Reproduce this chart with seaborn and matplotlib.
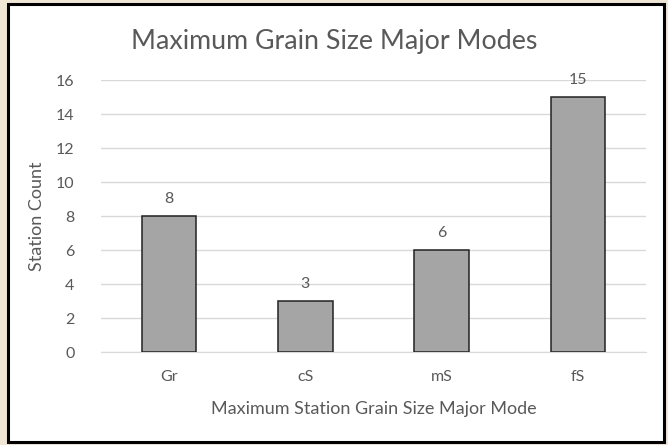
import matplotlib
matplotlib.use("Agg")
import matplotlib.pyplot as plt
import pandas as pd
import seaborn as sns
from matplotlib.patches import Rectangle

categories = ["Gr", "cS", "mS", "fS"]
counts = [8, 3, 6, 15]
yticks = [0, 2, 4, 6, 8, 10, 12, 14, 16]

sns.set_style("white")
plt.rcParams["font.family"] = ["Lato", "DejaVu Sans"]
TXT = "#595959"

df = pd.DataFrame({"mode": categories, "count": counts})

fig = plt.figure(figsize=(6.68, 4.45), dpi=100, facecolor="#efe6d6")
# white chart area with black frame
fig.patches.append(Rectangle((8 / 668, 3 / 445), 656 / 668, 438 / 445,
                             transform=fig.transFigure, facecolor="white",
                             edgecolor="black", linewidth=2.2, zorder=-5))

ax = fig.add_axes([101 / 668, 1 - 352 / 445, 545 / 668, 272 / 445])
ax.set_facecolor("none")
sns.barplot(data=df, x="mode", y="count", color="#a5a5a5", width=0.4,
            edgecolor="#222222", linewidth=1.1, saturation=1, ax=ax, zorder=3)

for i, v in enumerate(counts):
    ax.text(i, v + 0.6, str(v), ha="center", va="bottom", fontsize=11.5, color=TXT)

ax.set_ylim(0, 16)
ax.set_yticks(yticks)
ax.yaxis.grid(True, color="#d9d9d9", linewidth=1, zorder=0)
ax.set_axisbelow(True)
for s in ["top", "right", "left"]:
    ax.spines[s].set_visible(False)
ax.spines["bottom"].set_color("#d9d9d9")
ax.tick_params(axis="both", length=0, colors=TXT, labelsize=11.5)
ax.tick_params(axis="y", pad=19)
ax.tick_params(axis="x", pad=13)
ax.set_xlabel("Maximum Station Grain Size Major Mode", fontsize=13, color=TXT, labelpad=12)
ax.set_ylabel("Station Count", fontsize=13, color=TXT, labelpad=8)

fig.text(0.5, 1 - 42 / 445, "Maximum Grain Size Major Modes", ha="center",
         va="center", fontsize=19.3, color=TXT)

fig.savefig("out.png", dpi=100, facecolor=fig.get_facecolor())
